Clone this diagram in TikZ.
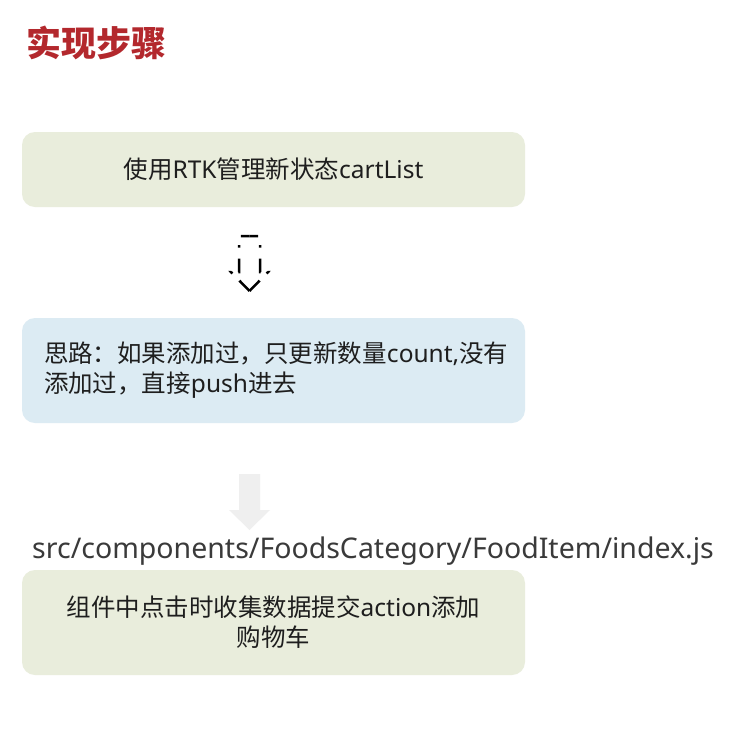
\documentclass[tikz,border=0pt]{standalone}
\usepackage{fontspec}
\setmainfont{Noto Sans CJK SC}
\newfontfamily\lat{Noto Sans}
\definecolor{titlered}{HTML}{B3282D}
\definecolor{boxgreen}{HTML}{E9EDDC}
\definecolor{boxblue}{HTML}{DCEBF3}
\definecolor{txt}{HTML}{1E1E1E}
\definecolor{pathtxt}{HTML}{3A3A3A}
\definecolor{greyarrow}{HTML}{EFEFEF}
\newcommand{\latseg}[1]{{\lat #1}}
\begin{document}
\begin{tikzpicture}[x=1pt,y=-1pt,
  stepbox/.style={rounded corners=13pt, minimum width=503pt, inner sep=0pt, text=txt,
    font=\fontsize{24.5}{30}\selectfont},
  greenbox/.style={stepbox, fill=boxgreen},
  bluebox/.style={stepbox, fill=boxblue},
  dasharrow/.style={draw=black, line width=2.5pt, line cap=butt, line join=miter,
    dash pattern=on 14.5pt off 10pt on 2.5pt off 7pt on 14pt off 11pt on 2.5pt off 11pt on 20pt off 5pt}
]
\useasboundingbox (0,0) rectangle (731,748);
\fill[white] (0,0) rectangle (731,748);

\node[anchor=west, text=titlered, font=\fontsize{35}{40}\selectfont\bfseries, inner sep=0pt] (title) at (26,43) {实现步骤};

\node[greenbox, minimum height=75pt] (b1) at (273.5,169.5)
  {使用\latseg{RTK}管理新状态\latseg{cartList}};

\node[bluebox, minimum height=105pt, text width=503pt, align=left] (b2) at (273.5,370.5)
  {\hspace*{22pt}思路：如果添加过，只更新数量\latseg{count,}没有\\\hspace*{22pt}添加过，直接\latseg{push}进去};

\node[anchor=base, text=pathtxt, inner sep=0pt, font=\lat\fontsize{28.5}{32}\selectfont] (path) at (373,558)
  {src/components/FoodsCategory/FoodItem/index.js};

\node[greenbox, minimum height=105pt, align=center] (b3) at (273.5,622.5)
  {组件中点击时收集数据提交\latseg{action}添加\\购物车};

% dashed hollow arrow between b1 and b2
\coordinate (tip1) at (249.5,291);
\draw[dasharrow] (tip1) -- (268,272) -- (260,272) -- (260,236) -- (249.5,236);
\draw[dasharrow] (tip1) -- (231,272) -- (239,272) -- (239,236) -- (249.5,236);

% light grey block arrow between b2 and b3
\coordinate (tip2) at (249.5,530);
\fill[greyarrow] (239,474) -- (260,474) -- (260,510) -- (270,510) -- (tip2) -- (229,510) -- (239,510) -- cycle;
\end{tikzpicture}
\end{document}
